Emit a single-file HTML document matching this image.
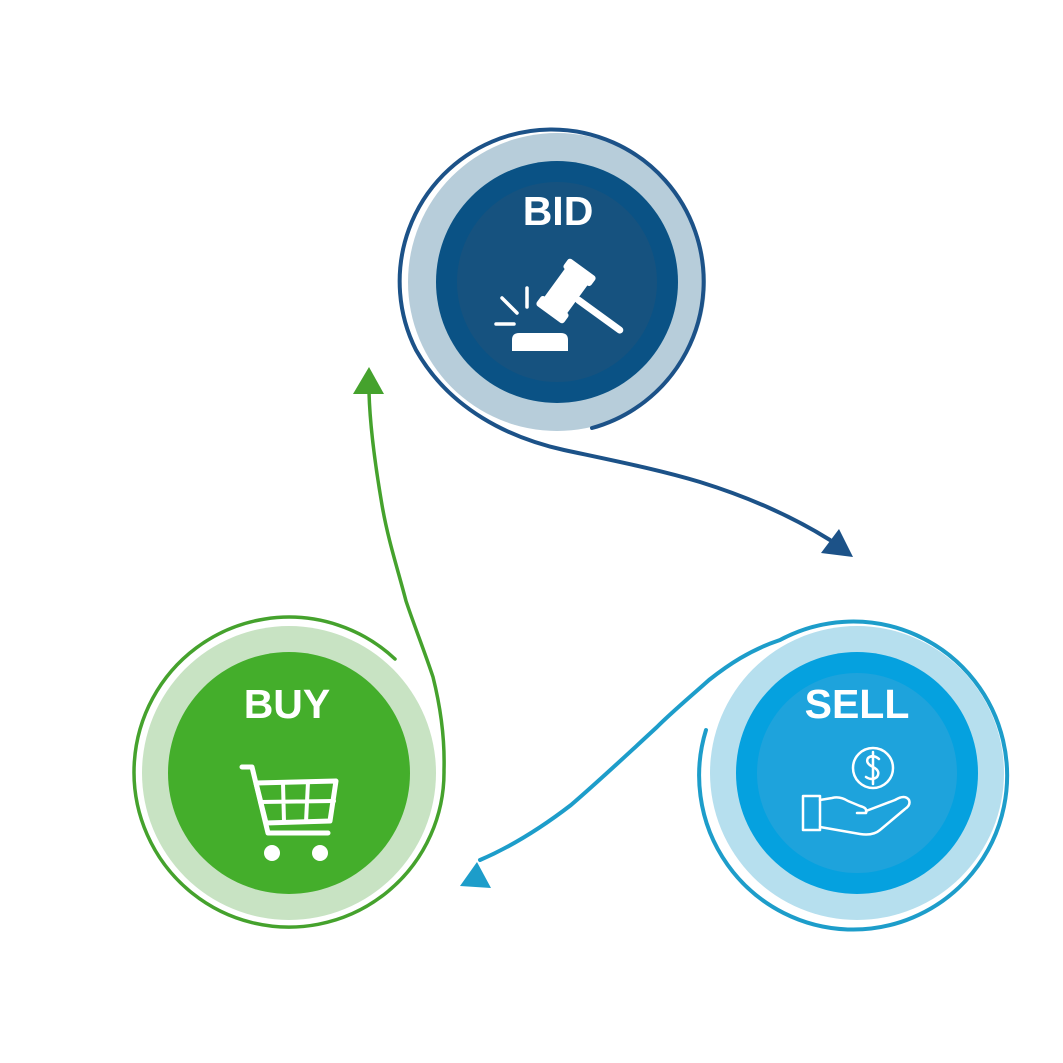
<!DOCTYPE html>
<html><head><meta charset="utf-8"><style>
html,body{margin:0;padding:0;background:#fff}
svg{display:block}
text{font-family:"Liberation Sans",sans-serif;font-weight:bold;fill:#fff;text-anchor:middle}
</style></head><body>
<svg width="1063" height="1063" viewBox="0 0 1063 1063" xmlns="http://www.w3.org/2000/svg">
<!-- BID -->
<circle cx="557" cy="282" r="149" fill="#b7cdda"/>
<circle cx="557" cy="282" r="121" fill="#0a5285"/>
<circle cx="557" cy="282" r="100" fill="#16527f"/>
<path d="M592,428 A152,152 0 1 0 416,350 C450,410 510,438 564,450 C620,462 660,470 700,482 C745,496 790,515 830,540" fill="none" stroke="#1c5288" stroke-width="4" stroke-linecap="round"/>
<polygon points="853,557 839,529 821,553" fill="#1c5288"/>
<text x="558" y="225" font-size="41">BID</text>
<g fill="#fff" stroke="none">
<path d="M512,351 L512,340 Q512,333 519,333 L561,333 Q568,333 568,340 L568,351 Z"/>
<g transform="translate(566,291) rotate(36)">
<rect x="-14" y="-19" width="28" height="38" rx="2"/>
<rect x="-17" y="-29" width="34" height="12" rx="3"/>
<rect x="-17" y="17" width="34" height="12" rx="3"/>
<rect x="12" y="-3.5" width="58" height="7" rx="3.5"/>
</g>
</g>
<g stroke="#fff" stroke-width="3.5" stroke-linecap="round">
<line x1="502" y1="298" x2="517" y2="313"/>
<line x1="527" y1="288" x2="527" y2="307"/>
<line x1="496" y1="324" x2="514" y2="324"/>
</g>
<!-- SELL -->
<circle cx="857" cy="773" r="147" fill="#b6dfee"/>
<circle cx="857" cy="773" r="121" fill="#05a1df"/>
<circle cx="857" cy="773" r="100" fill="#1ea3dc"/>
<path d="M706,730 A154,154 0 1 0 780,640 C750,650 728,665 709,680 C690,697 672,712 657,727 C630,752 600,780 571,805 C545,825 515,845 480,860" fill="none" stroke="#1d9dca" stroke-width="4" stroke-linecap="round"/>
<polygon points="460,886 477,862 491,888" fill="#1d9dca"/>
<text x="857" y="718" font-size="41">SELL</text>
<g fill="none" stroke="#fff" stroke-width="2.5" stroke-linejoin="round" stroke-linecap="round">
<circle cx="873" cy="768" r="20"/>
<path d="M879,759 Q873,754 868,758 Q865,763 873,767 Q881,771 877,777 Q872,781 866,777 M873,752 L873,784"/>
<rect x="803" y="796" width="17" height="34"/>
<path d="M820,800 L832,798 Q840,796 848,801 L860,806 Q868,808 866,813 L857,813 M866,811 L895,800 Q905,794 909,800 Q911,805 905,809 L880,830 Q873,836 860,834 L820,827"/>
</g>
<!-- BUY -->
<circle cx="289" cy="773" r="147" fill="#c8e3c3"/>
<circle cx="289" cy="773" r="121" fill="#44ae2b"/>
<path d="M395,659 A155,155 0 1 0 444,770 C445,735 440,705 433,677 C424,650 414,625 406,601 C398,570 388,540 382,505 C376,470 370,430 369,392" fill="none" stroke="#45a22d" stroke-width="3.5" stroke-linecap="round"/>
<polygon points="369,367 353,394 384,394" fill="#45a22d"/>
<text x="287" y="718" font-size="41">BUY</text>
<g fill="none" stroke="#fff" stroke-width="5" stroke-linecap="round" stroke-linejoin="round">
<path d="M242,767 L252,767 L268,833 L328,833"/>
<path d="M256,783 L336,781 L330,821 L266,823 Z"/>
<path d="M283,783 L284,822 M308,782 L306,822 M260,802 L334,801" stroke-width="4"/>
</g>
<circle cx="272" cy="853" r="8" fill="#fff"/>
<circle cx="320" cy="853" r="8" fill="#fff"/>
</svg>
</body></html>
